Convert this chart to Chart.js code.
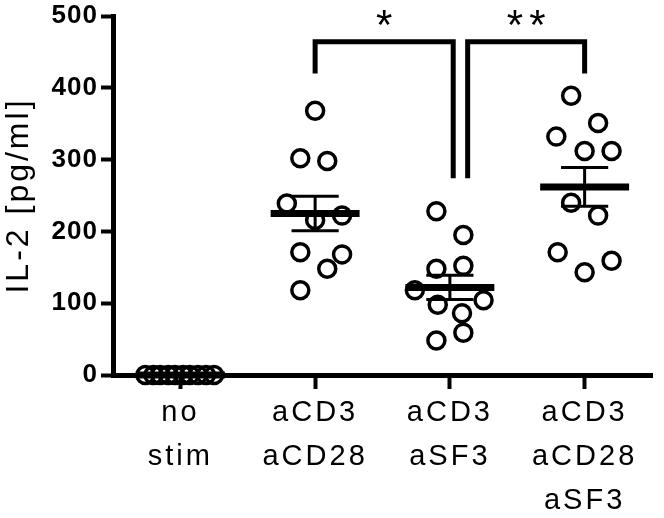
<!DOCTYPE html>
<html>
<head>
<meta charset="utf-8">
<script src="https://cdn.jsdelivr.net/npm/chart.js@4"></script>
<style>
  html, body { margin: 0; padding: 0; background: #fff; }
  #wrap { width: 664px; height: 518px; }
</style>
</head>
<body>
<div id="wrap"><canvas id="c" width="664" height="518"></canvas></div>
<script>
// ---- data ----
const categories = [['no', 'stim'], ['aCD3', 'aCD28'], ['aCD3', 'aSF3'], ['aCD3', 'aCD28', 'aSF3']];
const noStim = [0, 0, 0, 0, 0, 0, 0, 0, 0, 0];
const noStimJitter = [-0.26, -0.2, -0.15, -0.09, -0.04, 0.02, 0.07, 0.13, 0.19, 0.25];
const aCD3aCD28 = [368, 302, 298, 239, 216, 222, 171, 168, 148, 118];
const aCD3aCD28Jitter = [0, -0.11, 0.09, -0.21, 0, 0.2, -0.11, 0.2, 0.09, -0.11];
const aCD3aSF3 = [228, 195, 148, 152, 118, 98, 104, 86, 59, 48];
const aCD3aSF3Jitter = [-0.1, 0.1, -0.1, 0.1, -0.26, -0.09, 0.25, 0.09, 0.1, -0.1];
const aCD3aCD28aSF3 = [389, 351, 332, 312, 312, 240, 222, 171, 159, 143];
const aCD3aCD28aSF3Jitter = [-0.1, 0.1, -0.21, 0, 0.2, -0.1, 0.1, -0.2, 0.2, 0];
const means = [0, 225, 122, 262];
const sems = [0, 24, 17, 27];
const yTicks = [0, 100, 200, 300, 400, 500];
const sigPairs = [[1, 2], [2, 3]];
const sigLabels = ['*', '**'];
const bracketTop = 464;
const bracketLegEnds = [[420, 274], [274, 420]];

// ---- build datasets ----
const groups = [
  [noStim, noStimJitter],
  [aCD3aCD28, aCD3aCD28Jitter],
  [aCD3aSF3, aCD3aSF3Jitter],
  [aCD3aCD28aSF3, aCD3aCD28aSF3Jitter]
];
const MEAN_HALF = 0.33, CAP_HALF = 0.175, LEG_GAP = 0.055;

const pointDatasets = groups.map(([vals, jit], gi) => ({
  data: vals.map((v, i) => ({ x: gi + jit[i], y: v })),
  pointStyle: 'circle',
  pointRadius: 8.5,
  pointBorderWidth: 3.5,
  pointBorderColor: '#000',
  pointBackgroundColor: 'rgba(0,0,0,0)',
  showLine: false,
  order: 2,
  clip: false
}));

const meanData = [];
const semData = [];
means.forEach((m, gi) => {
  meanData.push({ x: gi - MEAN_HALF, y: m }, { x: gi + MEAN_HALF, y: m }, { x: gi, y: null });
  const hi = m + sems[gi], lo = m - sems[gi];
  semData.push({ x: gi - CAP_HALF, y: hi }, { x: gi + CAP_HALF, y: hi }, { x: gi, y: null });
  semData.push({ x: gi, y: hi }, { x: gi, y: lo }, { x: gi, y: null });
  semData.push({ x: gi - CAP_HALF, y: lo }, { x: gi + CAP_HALF, y: lo }, { x: gi, y: null });
});

function bracketEnds(k) {
  const [a, b] = sigPairs[k];
  const xa = k === 0 ? a : a + LEG_GAP * 2.4;
  const xb = k === 0 ? b + LEG_GAP * 0.45 : b;
  return [xa, xb];
}

const bracketData = [];
sigPairs.forEach((p, k) => {
  const [xa, xb] = bracketEnds(k);
  bracketData.push(
    { x: xa, y: bracketLegEnds[k][0] },
    { x: xa, y: bracketTop },
    { x: xb, y: bracketTop },
    { x: xb, y: bracketLegEnds[k][1] },
    { x: xb, y: null }
  );
});

const lineBase = {
  showLine: true, pointRadius: 0, borderColor: '#000', spanGaps: false,
  borderCapStyle: 'butt', borderJoinStyle: 'miter', clip: false, order: 1
};

const datasets = [
  ...pointDatasets,
  Object.assign({}, lineBase, { data: meanData, borderWidth: 7 }),
  Object.assign({}, lineBase, { data: semData, borderWidth: 3 }),
  Object.assign({}, lineBase, { data: bracketData, borderWidth: 5 })
];

const FONT = '"Liberation Sans", Arial, sans-serif';

const deco = {
  id: 'deco',
  beforeDraw(chart) {
    chart.ctx.letterSpacing = '3px';
    const ys = chart.scales.y;
    if (!ys._wrapped) {
      const orig = ys.drawLabels.bind(ys);
      ys.drawLabels = function (a) {
        const c = this.ctx; const prev = c.letterSpacing;
        c.letterSpacing = '1px'; orig(a); c.letterSpacing = prev;
      };
      ys._wrapped = true;
    }
  },
  afterDatasetsDraw(chart) {
    const { ctx, scales: { x, y } } = chart;
    ctx.save();
    ctx.letterSpacing = '6px';
    ctx.fillStyle = '#000';
    ctx.font = '42px ' + FONT;
    ctx.textAlign = 'center';
    ctx.textBaseline = 'alphabetic';
    sigPairs.forEach((p, k) => {
      const [xa, xb] = bracketEnds(k);
      const px = x.getPixelForValue((xa + xb) / 2) + 3;
      const py = y.getPixelForValue(bracketTop) - 3;
      ctx.fillText(sigLabels[k], px, py);
    });
    ctx.restore();
  }
};

new Chart(document.getElementById('c'), {
  type: 'scatter',
  data: { datasets },
  options: {
    responsive: false,
    animation: false,
    events: [],
    layout: { padding: { top: 14, right: 6, left: 0, bottom: 0 } },
    plugins: { legend: { display: false }, tooltip: { enabled: false } },
    scales: {
      x: {
        type: 'linear', min: -0.5, max: 3.5,
        afterBuildTicks: (s) => { s.ticks = categories.map((c, i) => ({ value: i })); },
        afterFit: (s) => { s.height = 143; },
        border: { display: true, color: '#000', width: 5 },
        grid: { display: true, drawOnChartArea: false, drawTicks: true, tickLength: 14, tickWidth: 4, tickColor: '#000' },
        ticks: {
          autoSkip: false, maxRotation: 0, padding: 2, color: '#000',
          font: { family: FONT, size: 29, lineHeight: 1.52 },
          callback: (v) => categories[v]
        }
      },
      y: {
        type: 'linear', min: 0, max: 500,
        afterBuildTicks: (s) => { s.ticks = yTicks.map(v => ({ value: v })); },
        afterFit: (s) => { s.width = 113; },
        border: { display: true, color: '#000', width: 5 },
        grid: { display: true, drawOnChartArea: false, drawTicks: true, tickLength: 12, tickWidth: 4, tickColor: '#000' },
        ticks: {
          padding: 3, color: '#000',
          font: { family: FONT, size: 26, weight: 'bold', lineHeight: 1 }
        },
        title: {
          display: true, text: 'IL-2 [pg/ml]', color: '#000',
          padding: 0,
          font: { family: FONT, size: 32, lineHeight: 1.2 }
        }
      }
    }
  },
  plugins: [deco]
});
</script>
</body>
</html>
